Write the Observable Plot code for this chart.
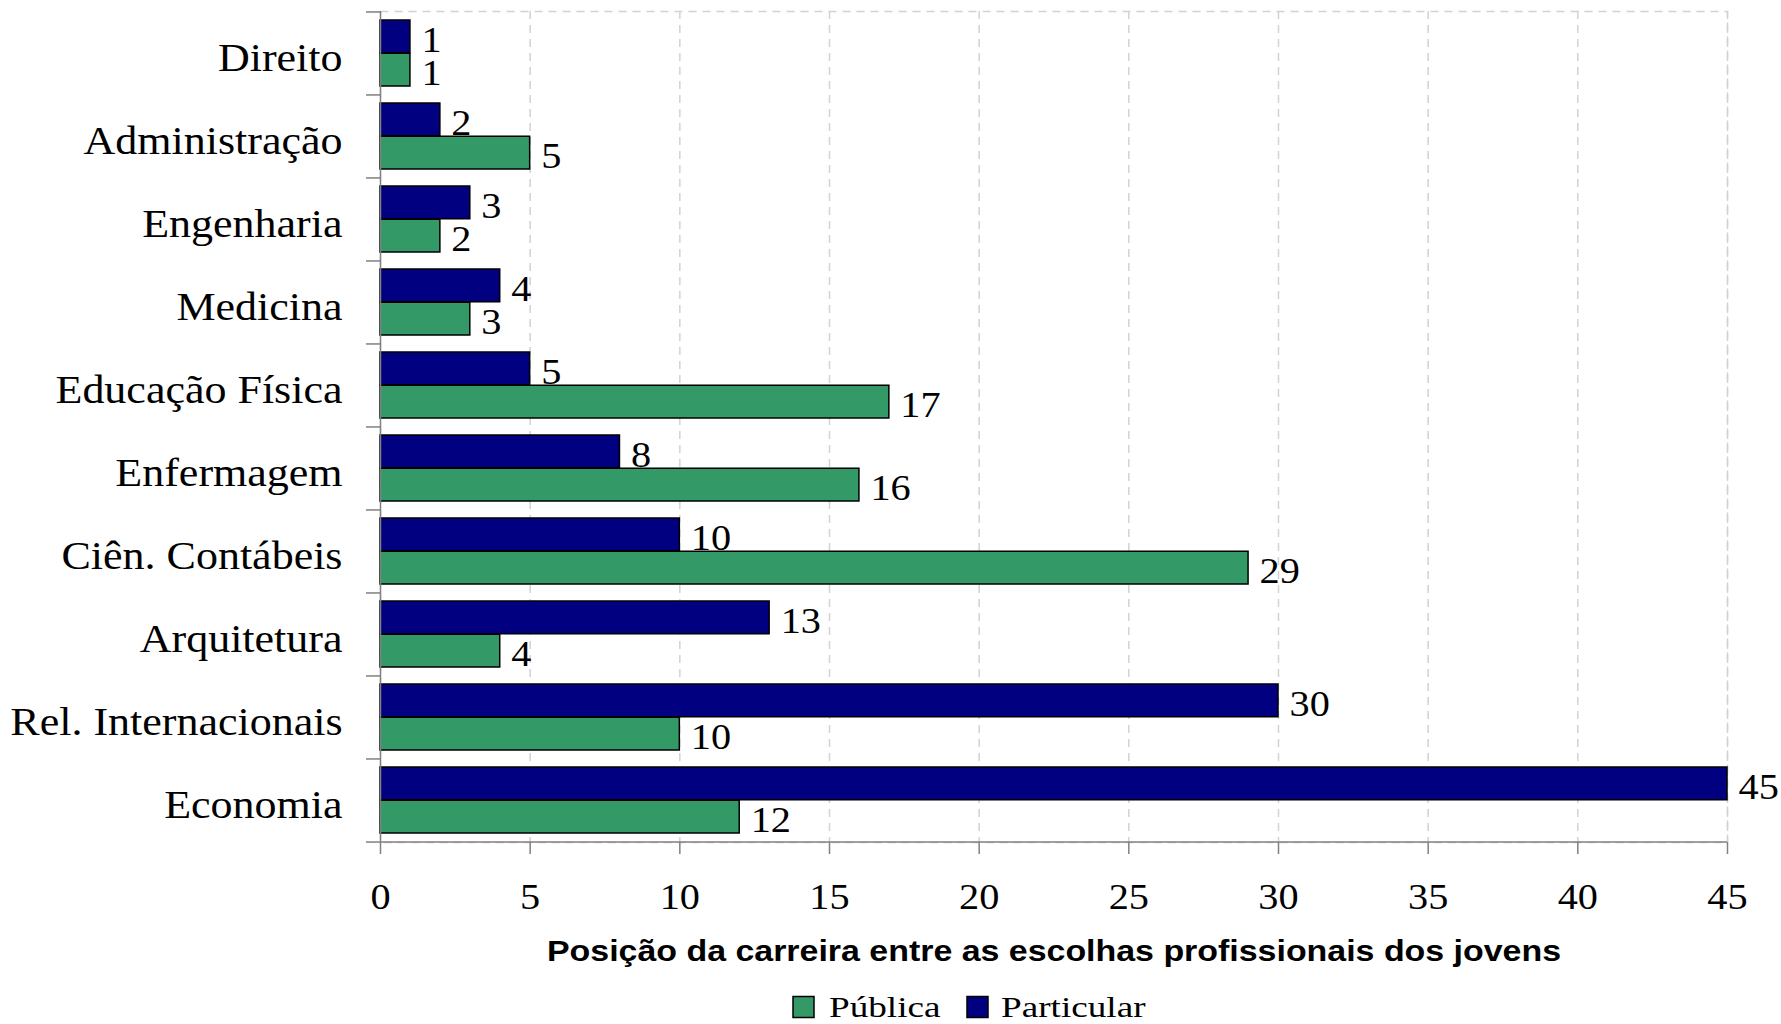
<!DOCTYPE html>
<html>
<head>
<meta charset="utf-8">
<script src="https://cdn.jsdelivr.net/npm/d3@7"></script>
<script src="https://cdn.jsdelivr.net/npm/@observablehq/plot@0.6"></script>
<style>
  body { margin: 0; background: #fff; }
  #wrap { width: 1781px; height: 1024px; overflow: hidden; }
  #chart svg, #legend svg { display: block; }
</style>
</head>
<body>
<div id="wrap">
  <div id="chart"></div>
  <div id="legend"></div>
</div>
<script>
// ---- data ----
const categories = ["Direito", "Administração", "Engenharia", "Medicina", "Educação Física", "Enfermagem", "Ciên. Contábeis", "Arquitetura", "Rel. Internacionais", "Economia"];
const particular = [1, 2, 3, 4, 5, 8, 10, 13, 30, 45];
const publica = [1, 5, 2, 3, 17, 16, 29, 4, 10, 12];
const xTicks = [0, 5, 10, 15, 20, 25, 30, 35, 40, 45];
const seriesNames = ["Pública", "Particular"];
const seriesColors = ["#339966", "#000080"];
const axisTitle = "Posição da carreira entre as escolhas profissionais dos jovens";

// ---- layout ----
const W = 1781, H = 972;
const mt = 11, mb = H - 842, ml = 380, mr = 54;
const pi = 0.2, po = 0.1;
const step = (H - mt - mb) / (categories.length - pi + 2 * po);
const half = step * (1 - pi) / 2;
const gridColor = "#d2d2d2";
const axisColor = "#808080";
const serif = "'Liberation Serif', 'Times New Roman', serif";

const rowsPart = categories.map((c, i) => ({category: c, value: particular[i]}));
const rowsPub = categories.map((c, i) => ({category: c, value: publica[i]}));

const chart = Plot.plot({
  width: W, height: H,
  marginTop: mt, marginBottom: mb, marginLeft: ml, marginRight: mr,
  style: {fontFamily: serif, fontSize: "36px", color: "#000", background: "#fff"},
  x: {domain: [0, 45], label: null},
  y: {domain: categories, paddingInner: pi, paddingOuter: po, label: null},
  marks: [
    Plot.frame({stroke: gridColor, strokeDasharray: "8,6", strokeWidth: 1.5}),
    Plot.ruleX(xTicks.filter(d => d > 0), {stroke: gridColor, strokeDasharray: "8,6", strokeWidth: 1.5}),
    Plot.barX(rowsPub, {x: "value", y: "category", fill: seriesColors[0], stroke: "#000", strokeWidth: 1.5, insetTop: half}),
    Plot.barX(rowsPart, {x: "value", y: "category", fill: seriesColors[1], stroke: "#000", strokeWidth: 1.5, insetBottom: half}),
    Plot.text(rowsPart, {x: "value", y: "category", text: d => String(d.value), textAnchor: "start", dx: 11, dy: -half / 2 + 3.5, fontSize: 36, fill: "#000"}),
    Plot.text(rowsPub, {x: "value", y: "category", text: d => String(d.value), textAnchor: "start", dx: 11, dy: half / 2 + 3.5, fontSize: 36, fill: "#000"}),
    Plot.ruleX([0], {stroke: axisColor, strokeWidth: 1.5}),
    Plot.ruleY([categories[categories.length - 1]], {dy: step / 2, stroke: axisColor, strokeWidth: 1.5}),
    Plot.axisX(xTicks, {tickSize: 12, tickPadding: 29, stroke: axisColor, strokeWidth: 1.5, fontSize: 36, fill: "#000", label: null}),
    Plot.axisY(categories, {tickSize: 14, tickFormat: () => "", dy: -step / 2, stroke: axisColor, strokeWidth: 1.5, label: null}),
    Plot.axisY([categories[categories.length - 1]], {tickSize: 14, tickFormat: () => "", dy: step / 2, stroke: axisColor, strokeWidth: 1.5, label: null}),
    Plot.axisY(categories, {tickSize: 0, tickPadding: 38, dy: 4.5, fontSize: 40, fill: "#000", label: null}),
    Plot.text([axisTitle], {text: d => d, frameAnchor: "bottom", dy: 118, fontFamily: "'Liberation Sans', Arial, sans-serif", fontWeight: "bold", fontSize: 29, fill: "#000"})
  ]
});

// remove empty tick texts, then stretch text horizontally as in the reference rendering
chart.querySelectorAll("text").forEach(t => {
  const content = t.textContent;
  if (content === "") { t.remove(); return; }
  const s = content === axisTitle ? 1.17 : categories.includes(content) ? 1.1 : 1.12;
  const tr = t.getAttribute("transform");
  if (tr) {
    t.setAttribute("transform", tr + ` scale(${s},1)`);
  } else {
    const x = +(t.getAttribute("x") || 0), y = +(t.getAttribute("y") || 0);
    t.removeAttribute("x"); t.removeAttribute("y");
    t.setAttribute("transform", `translate(${x},${y}) scale(${s},1)`);
  }
});

document.getElementById("chart").appendChild(chart);

// ---- legend (below the plot) ----
const LH = 1024 - H;
const legendItems = seriesNames.map((name, i) => ({name, color: seriesColors[i]}));
const lsvg = d3.select("#legend").append("svg")
  .attr("width", W).attr("height", LH)
  .style("font-family", "'Liberation Serif', 'Times New Roman', serif")
  .style("font-size", "30px");
const pos = [{sw: 793, lb: 829}, {sw: 967, lb: 1001}];
const cy = 1007 - H;
const lg = lsvg.selectAll("g").data(legendItems).join("g");
lg.append("rect")
  .attr("x", (d, i) => pos[i].sw).attr("y", cy - 10.5).attr("width", 21).attr("height", 21)
  .attr("fill", d => d.color).attr("stroke", "#000").attr("stroke-width", 1.5);
lg.append("text")
  .attr("transform", (d, i) => `translate(${pos[i].lb},${cy}) scale(1.24,1)`)
  .attr("dy", "0.34em")
  .attr("fill", "#000")
  .text(d => d.name);
</script>
</body>
</html>
